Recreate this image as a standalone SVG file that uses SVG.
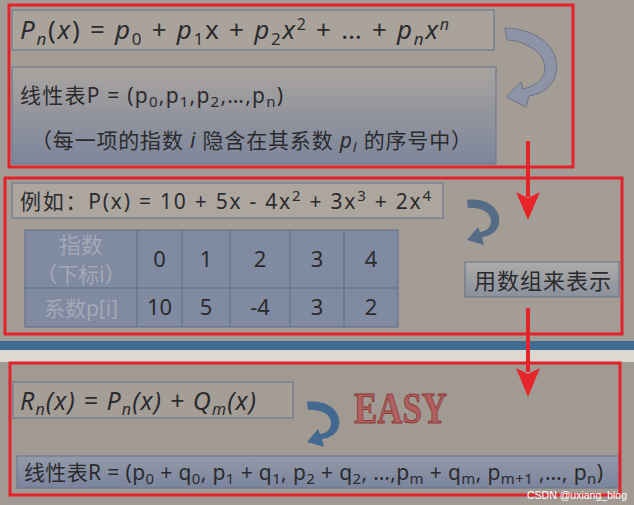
<svg xmlns="http://www.w3.org/2000/svg" width="634" height="505" viewBox="0 0 634 505">
<defs>
<linearGradient id="gP" x1="0" y1="0" x2="0" y2="1"><stop offset="0" stop-color="#a9a49f"/><stop offset="1" stop-color="#7d869b"/></linearGradient>
<linearGradient id="gR" x1="0" y1="0" x2="0" y2="1"><stop offset="0" stop-color="#949aa8"/><stop offset="1" stop-color="#7a849d"/></linearGradient>
<linearGradient id="gA" x1="0" y1="0" x2="0" y2="1"><stop offset="0" stop-color="#aeaba9"/><stop offset="1" stop-color="#8b909c"/></linearGradient>
<style>
.t{font-family:"Noto Sans","Noto Sans CJK SC",sans-serif;fill:#2b2b2e}
.i{font-style:italic}
.red{fill:none;stroke:#e3232b;stroke-width:3}
.box{stroke:#6c7a8e;stroke-width:1.2}
.grid{stroke:#5f6d84;stroke-width:1}
.hd{fill:#a4a9b7}
.ra{fill:#e8242b}
</style>
</defs>
<rect x="0" y="0" width="634" height="505" fill="#a49d95"/>
<rect x="0" y="341" width="634" height="9" fill="#406b93"/>
<rect x="0" y="350" width="634" height="12" fill="#ddd8d1"/>
<rect x="0" y="362" width="634" height="143" fill="#a19a92"/>

<g id="slide1">
<rect x="12" y="10" width="482" height="40" fill="#aaa39b" class="box"/>
<text class="t" x="20" y="39" font-size="26" textLength="429" lengthAdjust="spacing"><tspan class="i">P</tspan><tspan class="i" font-size="17" dy="6">n</tspan><tspan dy="-6">(</tspan><tspan class="i">x</tspan>) = <tspan class="i">p</tspan><tspan font-size="17" dy="6">0</tspan><tspan dy="-6"> + </tspan><tspan class="i">p</tspan><tspan font-size="17" dy="6">1</tspan><tspan dy="-6">x + </tspan><tspan class="i">p</tspan><tspan font-size="17" dy="6">2</tspan><tspan class="i" dy="-6">x</tspan><tspan font-size="16" dy="-9">2</tspan><tspan dy="9"> + … + </tspan><tspan class="i">p</tspan><tspan class="i" font-size="17" dy="6">n</tspan><tspan class="i" dy="-6">x</tspan><tspan class="i" font-size="16" dy="-9">n</tspan></text>
<rect x="12" y="67" width="484" height="97" fill="url(#gP)" class="box"/>
<text class="t" x="20" y="103" font-size="21" textLength="263" lengthAdjust="spacing">线性表P = (p<tspan font-size="15" dy="4">0</tspan><tspan dy="-4">,p</tspan><tspan font-size="15" dy="4">1</tspan><tspan dy="-4">,p</tspan><tspan font-size="15" dy="4">2</tspan><tspan dy="-4">,…,p</tspan><tspan font-size="15" dy="4">n</tspan><tspan dy="-4">)</tspan></text>
<text class="t" x="31" y="148" font-size="21" textLength="441" lengthAdjust="spacing">（每一项的指数 <tspan class="i">i</tspan> 隐含在其系数 <tspan class="i">p</tspan><tspan class="i" font-size="15" dy="4">i</tspan><tspan dy="-4"> 的序号中）</tspan></text>
</g>

<g id="slide2">
<rect x="12" y="183" width="431" height="35" fill="#ada69e" class="box"/>
<text class="t" x="20" y="209" font-size="21" textLength="411" lengthAdjust="spacing">例如：P(x) = 10 + 5x - 4x<tspan font-size="15" dy="-8">2</tspan><tspan dy="8"> + 3x</tspan><tspan font-size="15" dy="-8">3</tspan><tspan dy="8"> + 2x</tspan><tspan font-size="15" dy="-8">4</tspan></text>
<g id="table">
<rect x="25" y="230" width="373" height="97" fill="#808aa0" class="grid"/>
<path class="grid" d="M25 288H398M137 230V327M182 230V327M230 230V327M290 230V327M344 230V327"/>
<text class="t hd" x="81" y="253" font-size="22" text-anchor="middle">指数</text>
<text class="t hd" x="81" y="282" font-size="21" text-anchor="middle">（下标i）</text>
<text class="t hd" x="81" y="316" font-size="21" text-anchor="middle">系数p[i]</text>
<g font-size="22" text-anchor="middle">
<text class="t" x="159.5" y="267">0</text><text class="t" x="206" y="267">1</text><text class="t" x="260" y="267">2</text><text class="t" x="317" y="267">3</text><text class="t" x="371" y="267">4</text>
<text class="t" x="159.5" y="315">10</text><text class="t" x="206" y="315">5</text><text class="t" x="260" y="315">-4</text><text class="t" x="317" y="315">3</text><text class="t" x="371" y="315">2</text>
</g>
</g>
<g id="arraybox">
<rect x="465" y="262" width="154" height="35" fill="url(#gA)" class="box"/>
<text class="t" x="474" y="289" font-size="22" textLength="137" lengthAdjust="spacing" fill="#3a3d45">用数组来表示</text>
</g>
</g>

<g id="slide3">
<rect x="13" y="382" width="280" height="36" fill="#a59e96" class="box"/>
<text class="t i" x="20" y="410" font-size="25" textLength="236" lengthAdjust="spacing">R<tspan font-size="16" dy="5">n</tspan><tspan dy="-5">(x) = P</tspan><tspan font-size="16" dy="5">n</tspan><tspan dy="-5">(x) + Q</tspan><tspan font-size="16" dy="5">m</tspan><tspan dy="-5">(x)</tspan></text>
<text x="354" y="423" font-family="Liberation Serif" font-weight="bold" font-size="44" fill="#b0605e" stroke="#8c3b3c" stroke-width="1" textLength="93" lengthAdjust="spacingAndGlyphs">EASY</text>
<rect x="17" y="456" width="602" height="32" fill="url(#gR)" class="box"/>
<text class="t" x="24" y="480" font-size="21" textLength="579" lengthAdjust="spacing">线性表R = (p<tspan font-size="15" dy="4">0</tspan><tspan dy="-4"> + q</tspan><tspan font-size="15" dy="4">0</tspan><tspan dy="-4">, p</tspan><tspan font-size="15" dy="4">1</tspan><tspan dy="-4"> + q</tspan><tspan font-size="15" dy="4">1</tspan><tspan dy="-4">, p</tspan><tspan font-size="15" dy="4">2</tspan><tspan dy="-4"> + q</tspan><tspan font-size="15" dy="4">2</tspan><tspan dy="-4">, …,p</tspan><tspan font-size="15" dy="4">m</tspan><tspan dy="-4"> + q</tspan><tspan font-size="15" dy="4">m</tspan><tspan dy="-4">, p</tspan><tspan font-size="15" dy="4">m+1</tspan><tspan dy="-4"> ,…, p</tspan><tspan font-size="15" dy="4">n</tspan><tspan dy="-4">)</tspan></text>
</g>

<g id="connectors">
<path d="M505 28 C540 29 561 50 556 73 C553 88 541 94 529 96 L526 107 L506 97 L521 82 L523 89 C534 87 545 79 545 68 C544 52 526 41 507 40 Z" fill="#8c94a6" stroke="#6c7486" stroke-width="1"/>
<path d="M467 200 C488 197 502 210 499 224 C497 232 490 236 482 237 L484 245 L467 240 L478 227 L480 232 C487 231 491 227 491 221 C491 212 480 207 468 208 Z" fill="#546c86"/>
<path transform="translate(-160 202)" d="M467 200 C488 197 502 210 499 224 C497 232 490 236 482 237 L484 245 L467 240 L478 227 L480 232 C487 231 491 227 491 221 C491 212 480 207 468 208 Z" fill="#446990"/>
<rect class="ra" x="526" y="141" width="4" height="56"/>
<polygon class="ra" points="516,192 528,198 540,192 528,220"/>
<rect class="ra" x="526" y="308" width="4" height="64"/>
<polygon class="ra" points="516,368 528,374 540,368 528,397"/>
</g>

<g id="frames">
<rect class="red" x="9" y="5" width="564" height="162"/>
<rect class="red" x="5" y="178" width="617" height="156"/>
<rect class="red" x="10" y="363" width="610" height="132"/>
</g>
<text x="527" y="499" font-family="Liberation Sans" font-size="11" fill="#ffffff" textLength="100" lengthAdjust="spacingAndGlyphs">CSDN @uxiang_blog</text>
</svg>
